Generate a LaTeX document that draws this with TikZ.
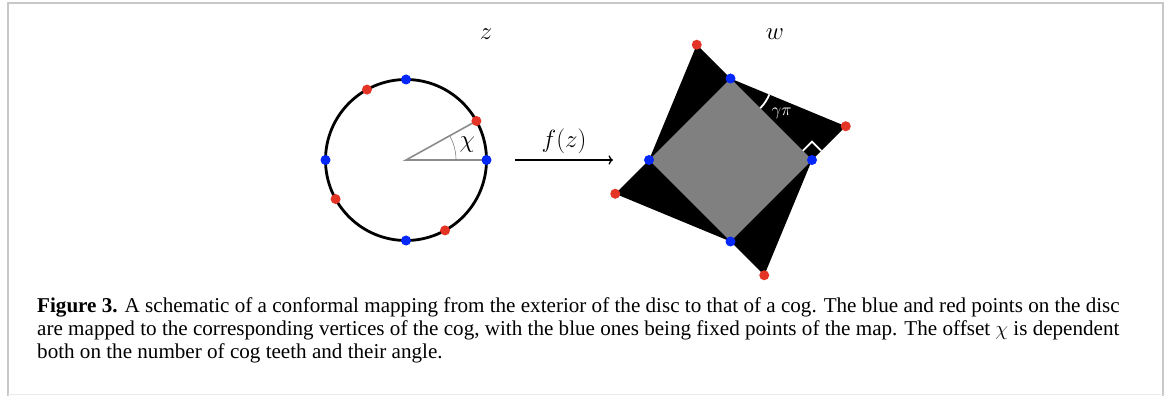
\documentclass[tikz,border=0pt]{standalone}
\usepackage{fontspec}
\usepackage{tikz}
\usetikzlibrary{arrows.meta,calc}
\newfontfamily\capfont{Liberation Serif}
\definecolor{Pblue}{RGB}{5,40,250}
\definecolor{Pred}{RGB}{228,52,38}
\definecolor{Pframe}{RGB}{200,200,200}

\begin{document}
\begin{tikzpicture}[x=1pt, y=1pt, >={Computer Modern Rightarrow},
  rim/.style={line width=2.8pt},
  spoke/.style={draw=black!45, line width=1.6pt},
  anglemark/.style={white, line width=1.8pt},
  mlab/.style={font=\fontsize{27}{30}\selectfont},
  pdot/.style={fill=#1},
]
\useasboundingbox (0,0) rectangle (1167,396);

% ── frame ────────────────────────────────────────────────────────────
\draw[Pframe, line width=2pt] (7.5,0) -- (7.5,392.5) -- (1162.5,392.5) -- (1162.5,0);
\draw[black!8, line width=1pt] (7.5,1.5) -- (1162.5,1.5);

% ── disc in the z-plane ──────────────────────────────────────────────
\coordinate (c) at (406,236);
\foreach \i in {0,...,3}{
  \coordinate (b\i) at ($(c)+(\i*90:80.5pt)$);
  \coordinate (r\i) at ($(c)+(29+\i*90:80.5pt)$);
}
\draw[spoke] (b0) -- (c) -- (r0);
\draw[black!50, line width=0.6pt] ($(c)+(0:50pt)$) arc[start angle=0, end angle=29, radius=50pt];
\node[mlab] (chi) at ($(c)+(14:63pt)$) {$\chi$};
\draw[rim] (c) circle (80.5pt);
\foreach \i in {0,...,3}{
  \fill[pdot=Pred] (r\i) circle (5pt);
  \fill[pdot=Pblue] (b\i) circle (5pt);
}
\node[mlab] (zlab) at (486,362) {$z$};

% ── the map ──────────────────────────────────────────────────────────
\coordinate (m0) at (515,236);
\coordinate (m1) at (613,236);
\draw[->, line width=1.3pt] (m0) -- (m1) node[mlab, midway, above=2pt] (flab) {$f(z)$};

% ── cog in the w-plane ───────────────────────────────────────────────
\coordinate (C) at (730.5,236);
\foreach \i in {0,...,3}{
  \coordinate (B\i) at ($(C)+(\i*90:81.5pt)$);
  \coordinate (R\i) at ($(C)+(16.325+\i*90:120.1pt)$);
}
\fill (B0) -- (R0) -- (B1) -- (R1) -- (B2) -- (R2) -- (B3) -- (R3) -- cycle;
\fill[gray] (B0) -- (B1) -- (B2) -- (B3) -- cycle;
\draw[anglemark] ($(B1)+(-45:42pt)$) arc[start angle=-45, end angle=-22.5, radius=42pt];
\node[white, font=\fontsize{19}{22}\selectfont] (glab) at ($(B1)+(-34.5:62pt)$) {$\gamma\pi$};
\draw[anglemark] ($(B0)+(135:13pt)$) -- ($(B0)+(90:18.4pt)$) -- ($(B0)+(45:13pt)$);
\foreach \i in {0,...,3}{
  \fill[pdot=Pred] (R\i) circle (5pt);
  \fill[pdot=Pblue] (B\i) circle (5pt);
}
\node[mlab] (wlab) at (775,362) {$w$};

% ── caption ──────────────────────────────────────────────────────────
\node[anchor=north west, align=left, inner sep=0pt, font=\capfont\fontsize{21.1}{23}\selectfont] (cap) at (37,99)
  {\textbf{Figure 3.} A schematic of a conformal mapping from the exterior of the disc to that of a cog. The blue and red points on the disc\\
   are mapped to the corresponding vertices of the cog, with the blue ones being fixed points of the map. The offset $\chi$ is dependent\\
   both on the number of cog teeth and their angle.};

\end{tikzpicture}
\end{document}
